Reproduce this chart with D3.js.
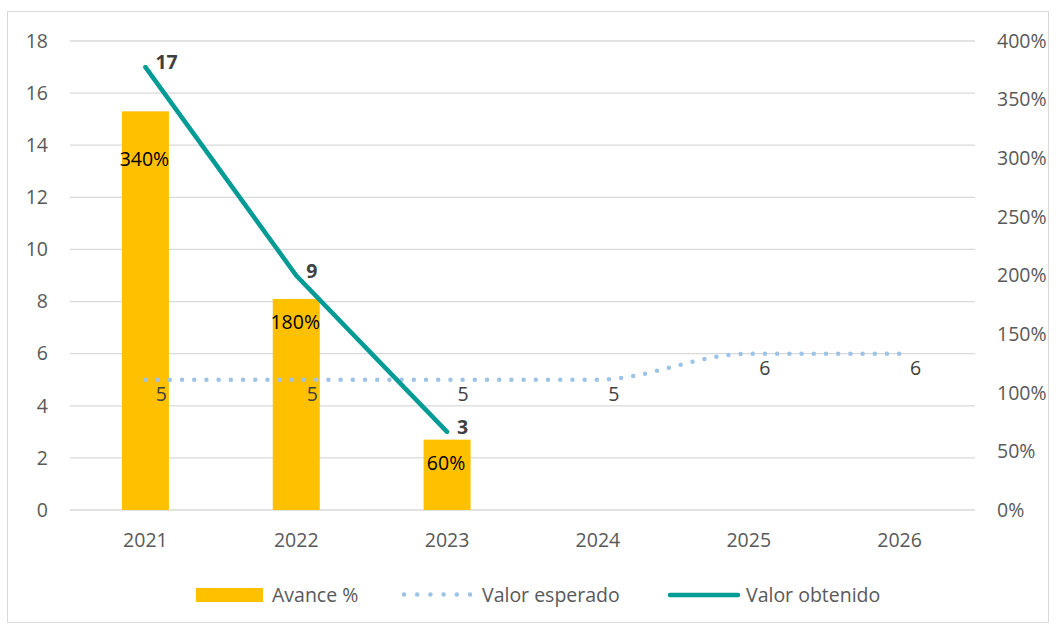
<!DOCTYPE html>
<html>
<head>
<meta charset="utf-8">
<script src="https://cdn.jsdelivr.net/npm/d3@7"></script>
<style>
  body { margin: 0; background: #fff; }
  text { font-family: "Open Sans", "Liberation Sans", sans-serif; }
</style>
</head>
<body>
<div id="chart"></div>
<script>
// Datos
const years = ["2021", "2022", "2023", "2024", "2025", "2026"];
const avance = [3.4, 1.8, 0.6];          // Avance % (eje derecho)
const esperado = [5, 5, 5, 5, 6, 6];     // Valor esperado
const obtenido = [17, 9, 3];             // Valor obtenido
const leftTicks = [0, 2, 4, 6, 8, 10, 12, 14, 16, 18];
const rightTicks = [0, 0.5, 1, 1.5, 2, 2.5, 3, 3.5, 4];

const W = 1056, H = 625;
const plot = { left: 70, right: 975, top: 41, bottom: 510 };
const colors = { bar: "#FFC000", esperado: "#9DC3E6", obtenido: "#009B95", text: "#595959", label: "#404040", grid: "#d9d9d9" };
const fs = "19.5px";

const svg = d3.select("#chart").append("svg").attr("width", W).attr("height", H);

// Marco del gráfico
svg.append("rect")
  .attr("x", 7.5).attr("y", 11.5).attr("width", 1041).attr("height", 611)
  .attr("fill", "none").attr("stroke", colors.grid);

const x = d3.scaleBand().domain(years).range([plot.left, plot.right]);
const yL = d3.scaleLinear().domain([0, 18]).range([plot.bottom, plot.top]);
const yR = d3.scaleLinear().domain([0, 4]).range([plot.bottom, plot.top]);
const cx = (d) => x(d) + x.bandwidth() / 2;

// Líneas de cuadrícula
svg.append("g")
  .selectAll("line")
  .data(leftTicks)
  .enter()
  .append("line")
  .attr("x1", plot.left).attr("x2", plot.right)
  .attr("y1", (d) => yL(d)).attr("y2", (d) => yL(d))
  .style("stroke", colors.grid).style("stroke-width", 1.3);

function styleAxis(g) {
  g.select(".domain").remove();
  g.selectAll("text").style("font-size", fs).style("fill", colors.text)
    .style("font-family", "'Open Sans', sans-serif");
}

// Eje izquierdo
svg.append("g").attr("transform", "translate(48,0)")
  .call(d3.axisLeft(yL).tickValues(leftTicks).tickSize(0).tickPadding(0))
  .call(styleAxis);

// Eje derecho
svg.append("g").attr("transform", "translate(997,0)")
  .call(d3.axisRight(yR).tickValues(rightTicks).tickSize(0).tickPadding(0).tickFormat(d3.format(".0%")))
  .call(styleAxis);

// Eje X
svg.append("g").attr("transform", "translate(0,533)")
  .call(d3.axisBottom(x).tickSize(0).tickPadding(0))
  .call(styleAxis);

// Barras (Avance %)
const barW = 47;
const bars = svg.append("g");
bars.selectAll("rect")
  .data(avance)
  .enter()
  .append("rect")
  .attr("x", (d, i) => cx(years[i]) - barW / 2)
  .attr("y", (d) => yR(d))
  .attr("width", barW)
  .attr("height", (d) => yR(0) - yR(d))
  .style("fill", colors.bar);

bars.selectAll("text")
  .data(avance)
  .enter()
  .append("text")
  .attr("x", (d, i) => cx(years[i]) - 1)
  .attr("y", (d, i) => yR(d) + (i === 0 ? 55 : 30))
  .attr("text-anchor", "middle")
  .style("font-size", fs).style("fill", "#000")
  .text((d) => d3.format(".0%")(d));

// Valor esperado (línea punteada suavizada)
const lineE = d3.line()
  .x((d, i) => cx(years[i]))
  .y((d) => yL(d))
  .curve(d3.curveMonotoneX);
svg.append("path")
  .datum(esperado)
  .attr("d", lineE)
  .attr("fill", "none")
  .style("stroke", colors.esperado)
  .style("stroke-width", 4.5)
  .style("stroke-linecap", "round")
  .style("stroke-dasharray", "0 12.2");

svg.append("g")
  .selectAll("text")
  .data(esperado)
  .enter()
  .append("text")
  .attr("x", (d, i) => cx(years[i]) + 16)
  .attr("y", (d) => yL(d) + 21)
  .attr("text-anchor", "middle")
  .style("font-size", fs).style("fill", colors.label)
  .text((d) => d);

// Valor obtenido
const lineO = d3.line()
  .x((d, i) => cx(years[i]))
  .y((d) => yL(d));
svg.append("path")
  .datum(obtenido)
  .attr("d", lineO)
  .attr("fill", "none")
  .style("stroke", colors.obtenido)
  .style("stroke-width", 4.5)
  .style("stroke-linecap", "round");

svg.append("g")
  .selectAll("text")
  .data(obtenido)
  .enter()
  .append("text")
  .attr("x", (d, i) => cx(years[i]) + 10)
  .attr("y", (d) => yL(d) + 2)
  .style("font-size", fs).style("font-weight", "bold").style("fill", colors.label)
  .text((d) => d);

// Leyenda
const legend = svg.append("g");
legend.append("rect").attr("x", 196).attr("y", 588).attr("width", 67).attr("height", 14).style("fill", colors.bar);
legend.append("text").attr("x", 272).attr("y", 602).style("font-size", fs).style("fill", colors.text).text("Avance %");
legend.append("line").attr("x1", 404).attr("x2", 470).attr("y1", 594.5).attr("y2", 594.5)
  .style("stroke", colors.esperado).style("stroke-width", 4.5).style("stroke-linecap", "round").style("stroke-dasharray", "0 13.2");
legend.append("text").attr("x", 482).attr("y", 602).style("font-size", fs).style("fill", colors.text).text("Valor esperado");
legend.append("line").attr("x1", 670).attr("x2", 738).attr("y1", 595).attr("y2", 595)
  .style("stroke", colors.obtenido).style("stroke-width", 4.5).style("stroke-linecap", "round");
legend.append("text").attr("x", 746).attr("y", 602).style("font-size", fs).style("fill", colors.text).text("Valor obtenido");
</script>
</body>
</html>
